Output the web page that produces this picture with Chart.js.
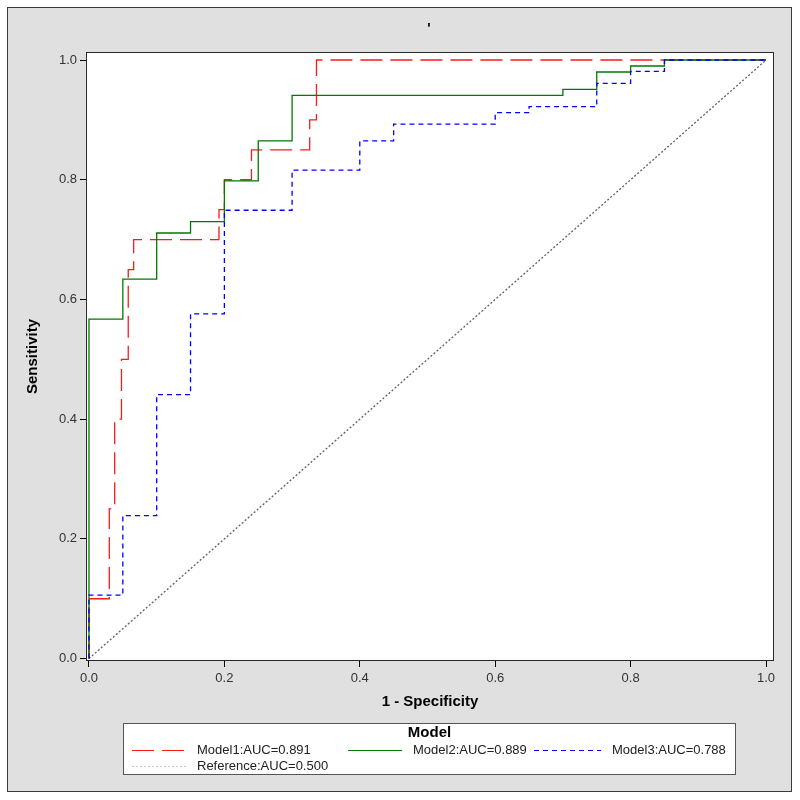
<!DOCTYPE html>
<html>
<head>
<meta charset="utf-8">
<script src="https://cdn.jsdelivr.net/npm/chart.js@4"></script>
<style>
  html, body { margin: 0; padding: 0; background: #fff; }
  canvas { display: block; }
</style>
</head>
<body>
<canvas id="rocChart" width="800" height="800"></canvas>
<script>
// ROC points (1 - specificity, sensitivity)
const fpr1 = [0, 0, 0.03, 0.038, 0.048, 0.058, 0.066, 0.192, 0.2, 0.24, 0.326, 0.336, 1.0];
const tpr1 = [0, 0.1, 0.25, 0.40, 0.50, 0.65, 0.70, 0.75, 0.80, 0.85, 0.90, 1.0, 1.0];

const fpr2 = [0, 0, 0.05, 0.10, 0.15, 0.20, 0.25, 0.30, 0.70, 0.75, 0.80, 0.85, 1.0];
const tpr2 = [0, 0.567, 0.634, 0.711, 0.730, 0.798, 0.865, 0.941, 0.951, 0.980, 0.990, 1.0, 1.0];

const fpr3 = [0, 0, 0.05, 0.10, 0.15, 0.20, 0.30, 0.40, 0.45, 0.60, 0.65, 0.75, 0.80, 0.85, 1.0];
const tpr3 = [0, 0.106, 0.239, 0.441, 0.576, 0.749, 0.816, 0.865, 0.893, 0.912, 0.922, 0.961, 0.981, 1.0, 1.0];

const fprRef = [0, 1];
const tprRef = [0, 1];

const modelLabels = ['Model1:AUC=0.891', 'Model2:AUC=0.889', 'Model3:AUC=0.788', 'Reference:AUC=0.500'];
const tickValues = [0, 0.2, 0.4, 0.6, 0.8, 1.0];

const FONT = "'Liberation Sans', Arial, sans-serif";

function toPoints(xs, ys) {
  return xs.map((x, i) => ({ x: x, y: ys[i] }));
}

// grey page, frame, white plot box, the stray title mark and the SAS style legend
const sasFrame = {
  id: 'sasFrame',
  beforeDraw(chart) {
    const ctx = chart.ctx;
    const a = chart.chartArea;
    ctx.save();
    ctx.fillStyle = '#ffffff';
    ctx.fillRect(0, 0, chart.width, chart.height);
    ctx.fillStyle = '#e0e0e0';
    ctx.fillRect(7, 7, 785, 785);
    ctx.strokeStyle = '#3a3a3a';
    ctx.lineWidth = 1;
    ctx.strokeRect(7.5, 7.5, 784, 784);
    ctx.fillStyle = '#ffffff';
    ctx.fillRect(a.left, a.top, a.right - a.left, a.bottom - a.top);
    ctx.restore();
  },
  afterDraw(chart) {
    const ctx = chart.ctx;
    const a = chart.chartArea;
    ctx.save();
    ctx.strokeStyle = '#2a2a2a';
    ctx.lineWidth = 1;
    ctx.strokeRect(a.left + 0.5, a.top + 0.5, a.right - a.left - 1, a.bottom - a.top - 1);

    // title (just an apostrophe in the original)
    ctx.fillStyle = '#000';
    ctx.font = 'bold 14px ' + FONT;
    ctx.textAlign = 'center';
    ctx.textBaseline = 'middle';
    ctx.fillText("'", 429, 29);

    // legend box
    const box = { x: 123, y: 723, w: 613, h: 52 };
    ctx.fillStyle = '#ffffff';
    ctx.fillRect(box.x, box.y, box.w, box.h);
    ctx.strokeStyle = '#555';
    ctx.strokeRect(box.x + 0.5, box.y + 0.5, box.w - 1, box.h - 1);
    ctx.fillStyle = '#000';
    ctx.font = 'bold 15px ' + FONT;
    ctx.fillText('Model', box.x + box.w / 2, 733);

    const slots = [
      { x: 132, y: 750, len: 54 },
      { x: 348, y: 750, len: 54 },
      { x: 534, y: 750, len: 67 },
      { x: 132, y: 766, len: 54 }
    ];
    ctx.font = '13px ' + FONT;
    ctx.textAlign = 'left';
    chart.data.datasets.forEach((ds, i) => {
      const s = slots[i];
      ctx.strokeStyle = i === 3 ? '#c8c8c8' : ds.borderColor;
      ctx.lineWidth = 1;
      ctx.setLineDash(ds.borderDash || []);
      ctx.beginPath();
      ctx.moveTo(s.x, s.y + 0.5);
      ctx.lineTo(s.x + s.len, s.y + 0.5);
      ctx.stroke();
      ctx.setLineDash([]);
      ctx.fillStyle = '#222';
      ctx.fillText(ds.label, s.x + s.len + 11, s.y);
    });
    ctx.restore();
  }
};

const data = {
  datasets: [
    {
      label: modelLabels[0],
      data: toPoints(fpr1, tpr1),
      borderColor: '#ff1a1a',
      borderDash: [22, 8],
      order: 2
    },
    {
      label: modelLabels[1],
      data: toPoints(fpr2, tpr2),
      borderColor: '#007a00',
      borderDash: [],
      order: 1
    },
    {
      label: modelLabels[2],
      data: toPoints(fpr3, tpr3),
      borderColor: '#0000ff',
      borderDash: [5, 4],
      order: 0
    },
    {
      label: modelLabels[3],
      data: toPoints(fprRef, tprRef),
      borderColor: '#606060',
      borderDash: [2, 2],
      stepped: false,
      order: 3
    }
  ]
};

const config = {
  type: 'scatter',
  data: data,
  options: {
    responsive: false,
    animation: false,
    devicePixelRatio: 1,
    layout: { padding: { top: 52, right: 26, left: 0, bottom: 0 } },
    elements: {
      point: { radius: 0, hoverRadius: 0 },
      line: { borderWidth: 1.3, tension: 0, stepped: 'before', fill: false }
    },
    datasets: { scatter: { showLine: true } },
    plugins: {
      legend: { display: false },
      title: { display: false },
      tooltip: { enabled: false }
    },
    scales: {
      x: {
        type: 'linear',
        min: -0.0044,
        max: 1.0118,
        afterFit: (scale) => { scale.height = 139; },
        afterBuildTicks: (scale) => { scale.ticks = tickValues.map(v => ({ value: v })); },
        grid: { drawOnChartArea: false, drawTicks: true, tickLength: 6, tickColor: '#000' },
        border: { display: false },
        ticks: {
          padding: 4,
          color: '#333',
          font: { family: FONT, size: 13 },
          maxRotation: 0,
          callback: (v) => Number(v).toFixed(1)
        },
        title: {
          display: true,
          text: '1 - Specificity',
          color: '#000',
          font: { family: FONT, size: 15, weight: 'bold' },
          padding: { bottom: 89, top: 0 }
        }
      },
      y: {
        type: 'linear',
        min: -0.004,
        max: 1.0134,
        afterFit: (scale) => { scale.width = 86; },
        afterBuildTicks: (scale) => { scale.ticks = tickValues.map(v => ({ value: v })); },
        grid: { drawOnChartArea: false, drawTicks: true, tickLength: 6, tickColor: '#000' },
        border: { display: false },
        ticks: {
          padding: 3,
          color: '#333',
          font: { family: FONT, size: 13 },
          callback: (v) => Number(v).toFixed(1)
        },
        title: {
          display: true,
          text: 'Sensitivity',
          color: '#000',
          font: { family: FONT, size: 15, weight: 'bold' },
          padding: { top: 24, bottom: 0 }
        }
      }
    }
  },
  plugins: [sasFrame]
};

const rocChart = new Chart(document.getElementById('rocChart'), config);
</script>
</body>
</html>
